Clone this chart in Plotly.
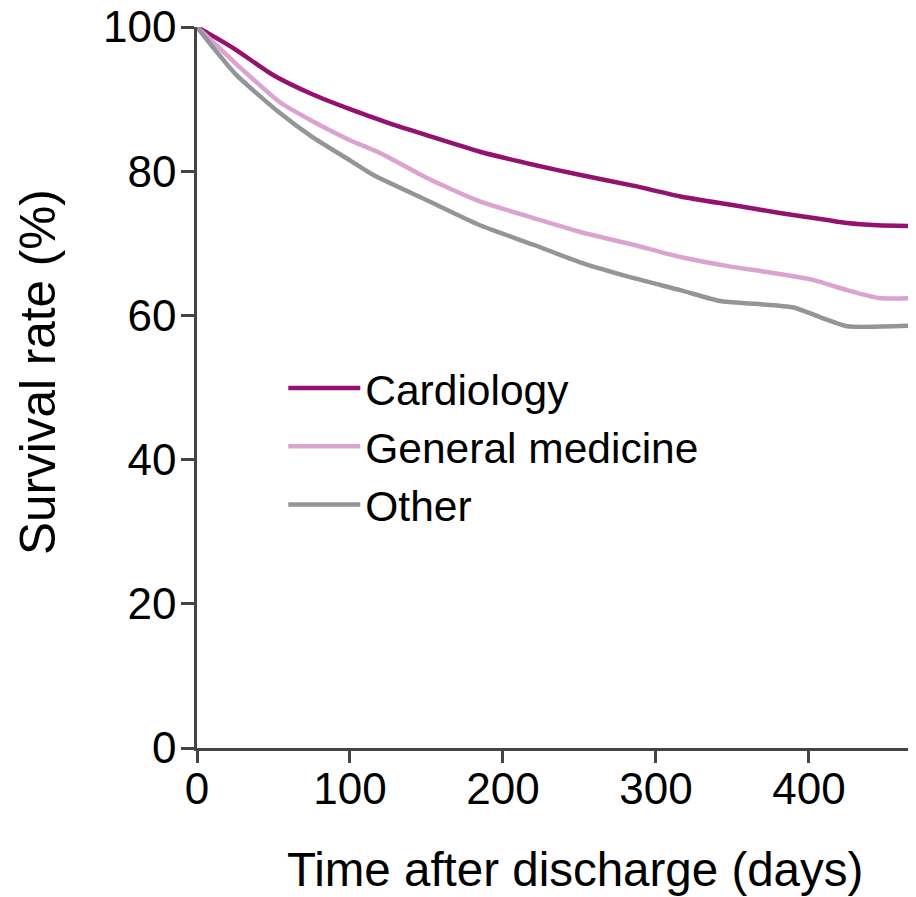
import plotly.graph_objects as go

days_card = [0, 10, 25, 50, 75, 100, 125, 150, 185, 220, 250, 285, 316, 350, 381, 410, 425, 445, 470]
card = [100, 98.8, 96.9, 93.3, 90.7, 88.6, 86.7, 85.0, 82.7, 80.9, 79.5, 78.0, 76.5, 75.3, 74.2, 73.3, 72.8, 72.5, 72.4]

days_gen = [0, 10, 25, 54, 75, 100, 120, 150, 185, 220, 250, 285, 316, 348, 370, 403, 425, 446, 470]
gen = [100, 98.0, 95.0, 89.6, 87.0, 84.3, 82.5, 79.1, 75.8, 73.5, 71.6, 69.8, 68.1, 66.8, 66.1, 64.9, 63.5, 62.4, 62.4]

days_oth = [0, 10, 25, 54, 75, 100, 115, 150, 185, 220, 250, 285, 316, 342, 365, 390, 408, 425, 470]
oth = [100, 97.3, 93.5, 88.1, 84.8, 81.5, 79.5, 76.0, 72.5, 69.8, 67.4, 65.2, 63.5, 62.0, 61.6, 61.1, 59.7, 58.5, 58.6]

names = ["Cardiology", "General medicine", "Other"]
colors = ["#951170", "#dba3cf", "#939598"]
x_title = "Time after discharge (days)"
y_title = "Survival rate (%)"

fig = go.Figure()
for xs, ys, n, c in zip([days_card, days_gen, days_oth], [card, gen, oth], names, colors):
    fig.add_trace(go.Scatter(x=xs, y=ys, mode="lines", name=n, cliponaxis=False,
                             line=dict(color=c, width=4.5, shape="spline", smoothing=0.6)))

font = "Arial"
# the page body has an 8px margin, so the figure is 8px smaller than the window
fig.update_layout(
    width=908, height=889,
    margin=dict(l=189, r=0, t=19, b=149, autoexpand=False),
    paper_bgcolor="white", plot_bgcolor="white",
    font=dict(family=font, size=44, color="black"),
    showlegend=True,
    legend=dict(x=0.12, y=0.5465, xanchor="left", yanchor="top",
                font=dict(size=42.5), itemwidth=72, tracegroupgap=0,
                bgcolor="rgba(0,0,0,0)"),
    xaxis=dict(range=[0, 470], tickvals=[0, 100, 200, 300, 400],
               showline=True, linecolor="#444", linewidth=2.5,
               ticks="outside", ticklen=12, tickwidth=2.5, tickcolor="#444",
               ticklabelstandoff=-12, ticklabeloverflow="allow",
               showgrid=False, zeroline=False, automargin=False),
    yaxis=dict(range=[0, 100], tickvals=[0, 20, 40, 60, 80, 100],
               showline=True, linecolor="#444", linewidth=2.5,
               ticks="outside", ticklen=13, tickwidth=2.5, tickcolor="#444",
               ticklabelstandoff=-4, ticklabeloverflow="allow",
               showgrid=False, zeroline=False, automargin=False),
    annotations=[
        dict(text=x_title, xref="paper", yref="paper",
             x=(575 - 197) / 719, y=-(869 - 748) / 721,
             xanchor="center", yanchor="middle", showarrow=False,
             font=dict(size=47.5)),
        dict(text=y_title, xref="paper", yref="paper",
             x=-(197 - 37) / 719, y=(748 - 372) / 721,
             xanchor="center", yanchor="middle", showarrow=False,
             textangle=-90, font=dict(size=49.5)),
    ],
)
fig.write_html("out.html")
